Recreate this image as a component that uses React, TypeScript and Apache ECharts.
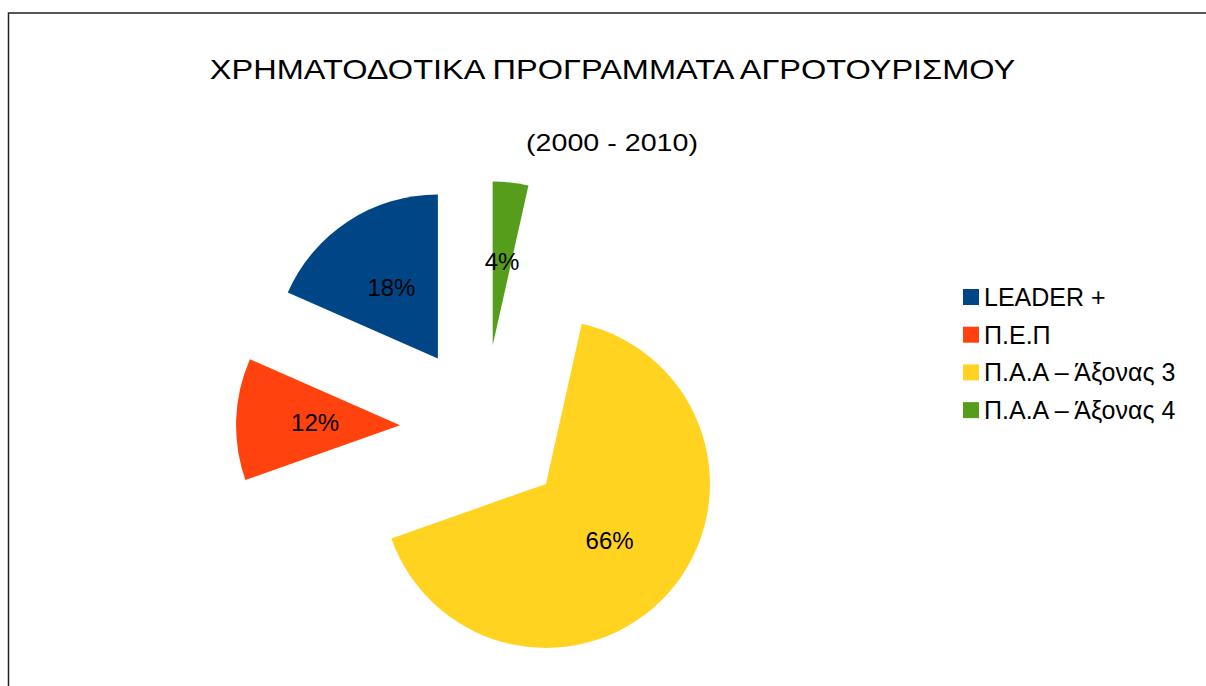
import React, { useEffect, useRef } from "react";
import * as echarts from "echarts";

const categories = ["LEADER +", "Π.Ε.Π", "Π.Α.Α – Άξονας 3", "Π.Α.Α – Άξονας 4"];
const shares = [18.4, 12.0, 66.1, 3.5];
const colors = ["#004586", "#ff420e", "#ffd320", "#579d1c"];
const titleText = "ΧΡΗΜΑΤΟΔΟΤΙΚΑ ΠΡΟΓΡΑΜΜΑΤΑ ΑΓΡΟΤΟΥΡΙΣΜΟΥ";
const subtitleText = "(2000 - 2010)";

const FONT = "Liberation Sans";

function measure(text: string, size: number): number {
  const c = document.createElement("canvas");
  const ctx = c.getContext("2d");
  if (!ctx) return 1;
  ctx.font = `${size}px "${FONT}"`;
  return ctx.measureText(text).width || 1;
}

export default function App() {
  const ref = useRef<HTMLDivElement>(null);

  useEffect(() => {
    if (!ref.current) return;
    const chart = echarts.init(ref.current, undefined, { renderer: "svg" });

    const titleSize = 27.5;
    const subSize = 24;
    const titleScale = 811 / measure(titleText, titleSize);
    const subScale = 172 / measure(subtitleText, subSize);

    chart.setOption({
      animation: false,
      backgroundColor: "#ffffff",
      graphic: [
        {
          type: "rect",
          z: -10,
          silent: true,
          shape: { x: 8.5, y: 13, width: 1400, height: 900 },
          style: { fill: "none", stroke: "#222", lineWidth: 1.5 },
        },
        {
          type: "text",
          x: 612.5,
          y: 69,
          scaleX: titleScale,
          style: {
            text: titleText,
            fontSize: titleSize,
            fontFamily: FONT,
            fill: "#000",
            align: "center",
            verticalAlign: "middle",
          },
        },
        {
          type: "text",
          x: 612,
          y: 143,
          scaleX: subScale,
          style: {
            text: subtitleText,
            fontSize: subSize,
            fontFamily: FONT,
            fill: "#000",
            align: "center",
            verticalAlign: "middle",
          },
        },
      ],
      legend: {
        orient: "vertical",
        left: 963,
        top: 284.5,
        padding: 0,
        itemWidth: 16,
        itemHeight: 16,
        itemGap: 12.7,
        icon: "rect",
        selectedMode: false,
        data: categories,
        textStyle: { fontSize: 25, fontFamily: FONT, color: "#000" },
      },
      series: [
        {
          type: "pie",
          center: [483.5, 428.5],
          radius: [0, 164],
          startAngle: 90,
          clockwise: false,
          selectedMode: "multiple",
          selectedOffset: 83.5,
          percentPrecision: 0,
          avoidLabelOverlap: false,
          emphasis: { disabled: true },
          select: { itemStyle: { borderWidth: 0 } },
          itemStyle: { borderWidth: 0 },
          label: {
            show: true,
            position: "inside",
            formatter: "{d}%",
            fontSize: 24,
            fontFamily: FONT,
            color: "#000",
          },
          labelLine: { show: false },
          data: categories.map((name, i) => ({
            name,
            value: shares[i],
            selected: true,
            itemStyle: { color: colors[i] },
          })),
        },
      ],
    });

    return () => chart.dispose();
  }, []);

  return (
    <div
      ref={ref}
      style={{ position: "fixed", left: 0, top: 0, width: 1206, height: 686 }}
    />
  );
}
